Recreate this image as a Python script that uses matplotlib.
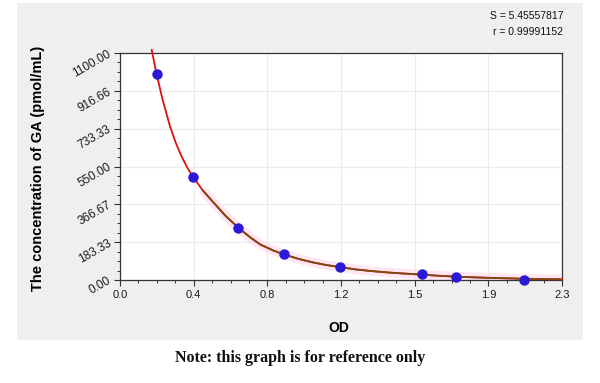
import numpy as np
import matplotlib
matplotlib.use("Agg")
import matplotlib.pyplot as plt
from matplotlib.ticker import FixedLocator, AutoMinorLocator

# Data
od_points = [0.19, 0.38, 0.615, 0.855, 1.145, 1.57, 1.75, 2.10]
conc_points = [1000.0, 500.0, 250.0, 125.0, 62.5, 31.25, 15.6, 0.0]

curve_od = [0.165, 0.19, 0.22, 0.26, 0.29, 0.32, 0.35, 0.38, 0.43, 0.49, 0.55,
            0.62, 0.68, 0.73, 0.80, 0.86, 0.93, 1.0, 1.07, 1.15, 1.22, 1.30,
            1.40, 1.50, 1.57, 1.65, 1.75, 1.90, 2.10, 2.30]
curve_conc = [1115, 1000, 880, 745, 665, 600, 545, 500, 435, 372, 310,
              250, 205, 172, 142, 122, 102, 86, 73, 62, 52, 44,
              36, 30, 26, 21, 16, 11, 6, 3]

x_ticks = [0.0, 2.3 / 6, 2 * 2.3 / 6, 3 * 2.3 / 6, 4 * 2.3 / 6, 5 * 2.3 / 6, 2.3]
x_labels = ["0.0", "0.4", "0.8", "1.2", "1.5", "1.9", "2.3"]
y_ticks = [0, 1100 / 6, 2 * 1100 / 6, 3 * 1100 / 6, 4 * 1100 / 6, 5 * 1100 / 6, 1100]
y_labels = ["0.00", "183.33", "366.67", "550.00", "733.33", "916.66", "1100.00"]

s_text = "S = 5.45557817"
r_text = "r = 0.99991152"
x_title = "OD"
y_title = "The concentration of GA (pmol/mL)"
note = "Note: this graph is for reference only"

plt.rcParams['font.family'] = ['Liberation Sans', 'DejaVu Sans']

fig = plt.figure(figsize=(6.0, 3.83), dpi=100)
fig.patch.set_facecolor('white')

bg = fig.add_axes([17 / 600, 43 / 383, 566 / 600, 337 / 383], zorder=-1)
bg.set_facecolor('#efefef')
bg.set_xticks([])
bg.set_yticks([])
for sp in bg.spines.values():
    sp.set_visible(False)

ax = fig.add_axes([120 / 600, 103 / 383, 442 / 600, 227 / 383], zorder=1)
ax.set_facecolor('white')
ax.set_xlim(0, 2.3)
ax.set_ylim(0, 1100)

ax.xaxis.set_major_locator(FixedLocator(x_ticks))
ax.set_xticklabels(x_labels)
ax.xaxis.set_minor_locator(AutoMinorLocator(4))
ax.yaxis.set_major_locator(FixedLocator(y_ticks))
ax.set_yticklabels(y_labels, rotation=30, ha='right', va='center',
                   rotation_mode='anchor')
ax.yaxis.set_minor_locator(AutoMinorLocator(4))

ax.grid(True, which='major', color='#ececec', linewidth=0.8)
ax.set_axisbelow(True)
ax.tick_params(axis='both', which='major', length=4, width=0.8, color='#333333',
               labelsize=8, labelcolor='#1a1a1a', pad=3)
ax.tick_params(axis='y', which='major', labelsize=8.5)
ax.tick_params(axis='both', which='minor', length=2.5, width=0.7, color='#333333')
for sp in ax.spines.values():
    sp.set_color('#333333')
    sp.set_linewidth(0.9)

# Curve: pink glow on lower part, red line, brown overlay on lower part
lower = [i for i, v in enumerate(curve_od) if v >= 0.42]
low_x = [curve_od[i] for i in lower]
low_y = [curve_conc[i] for i in lower]
ax.plot(low_x, low_y, color='#ffd6ec', linewidth=7, alpha=0.6,
        solid_capstyle='butt', zorder=2)
ax.plot(curve_od, curve_conc, color='#e01010', linewidth=1.3, zorder=3, clip_on=False)
ax.plot(low_x, low_y, color='#7d4a14', linewidth=1.3, zorder=4)

ax.plot(od_points, conc_points, 'o', color='#2a1ad8', markersize=7.5,
        markeredgewidth=0, zorder=5, clip_on=False)

ax.set_xlabel(x_title, fontsize=10, fontweight='bold')
ax.xaxis.set_label_coords((339 - 120) / 442, -0.18)
ax.set_ylabel(y_title, fontsize=10.5, fontweight='bold')
ax.yaxis.set_label_coords(-0.17, 0.49)

fig.text(563 / 600, 1 - 16 / 383, s_text, ha='right', va='center', fontsize=7.5,
         color='#111111')
fig.text(563 / 600, 1 - 32 / 383, r_text, ha='right', va='center', fontsize=7.5,
         color='#111111')

fig.text(0.5, 1 - 358 / 383, note, ha='center', va='center', fontsize=11.5,
         fontweight='bold', family=['Liberation Serif', 'DejaVu Serif'],
         color='#111111')

fig.savefig('out.png', dpi=100, facecolor=fig.get_facecolor())
